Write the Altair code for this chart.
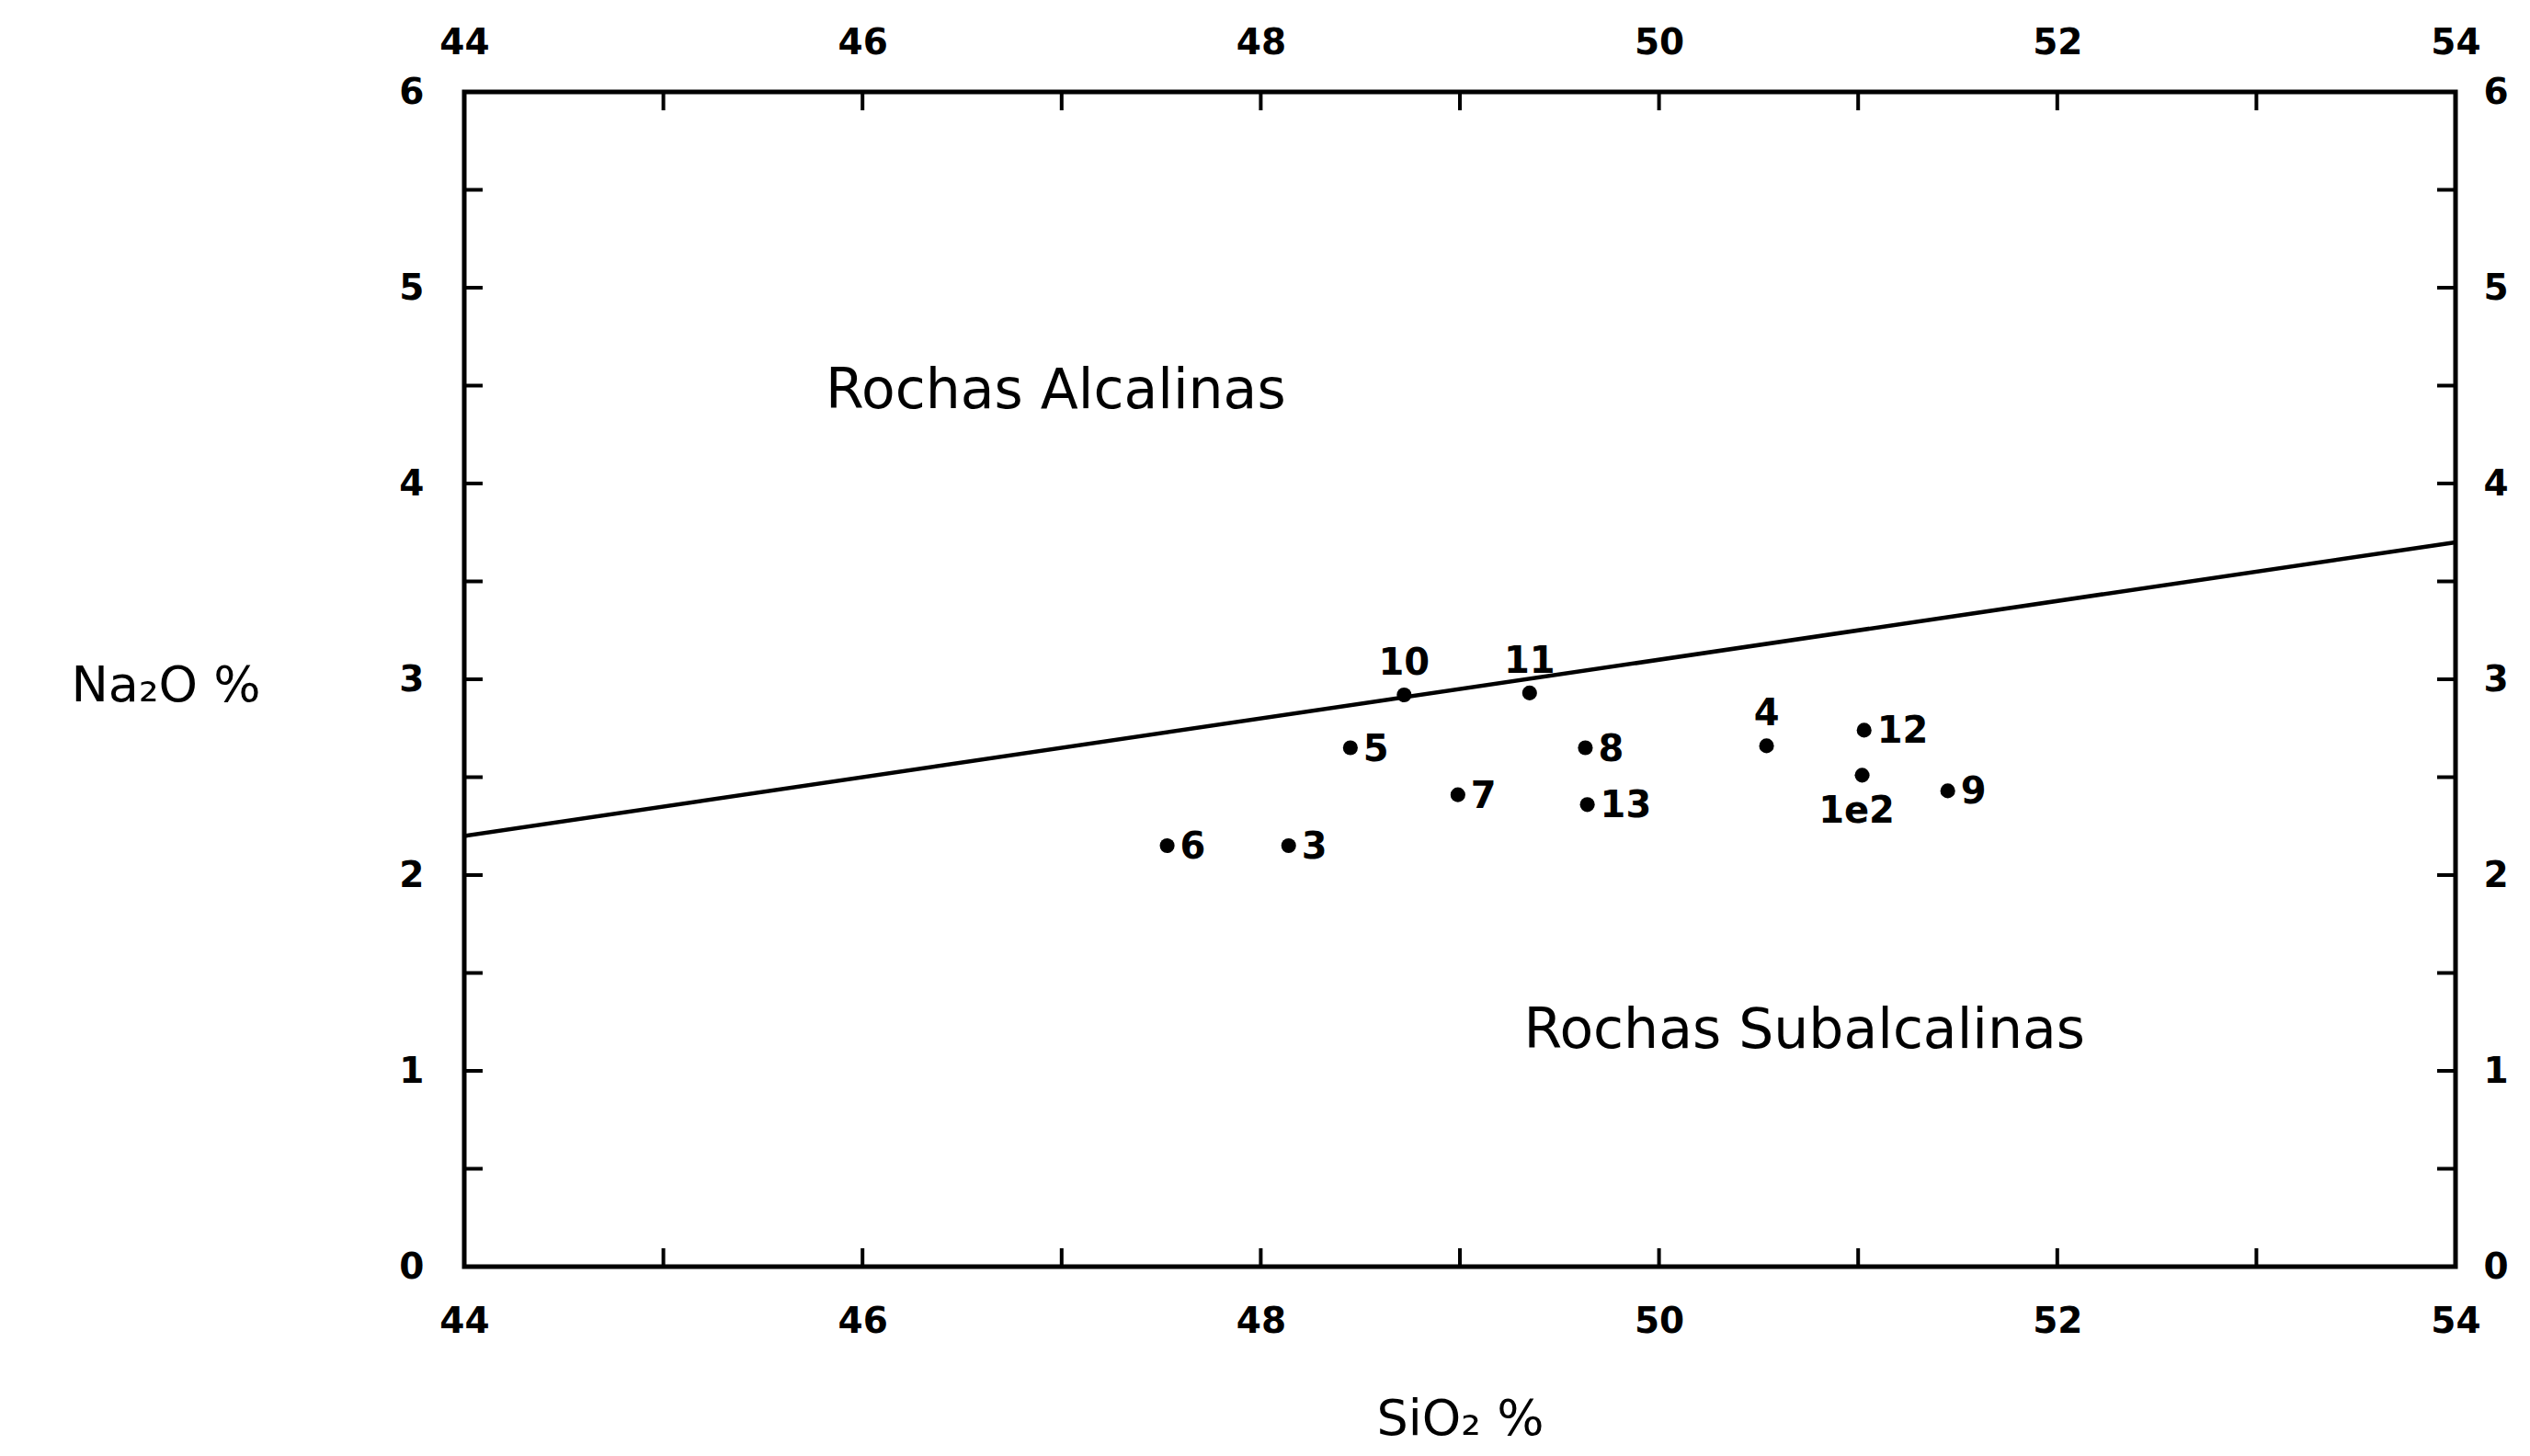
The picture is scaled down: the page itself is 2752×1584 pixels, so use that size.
import altair as alt
import pandas as pd

# ---- data ----
sample_labels = ["6", "3", "5", "10", "7", "11", "8", "13", "4", "12", "1e2", "9"]
sio2 = [47.53, 48.14, 48.45, 48.72, 48.99, 49.35, 49.63, 49.64, 50.54, 51.03, 51.02, 51.45]
na2o = [2.15, 2.15, 2.65, 2.92, 2.41, 2.93, 2.65, 2.36, 2.66, 2.74, 2.51, 2.43]
label_pos = ["right", "right", "right", "above", "right", "above", "right", "right",
             "above", "right", "below", "right"]

boundary_sio2 = [44, 54]
boundary_na2o = [2.2, 3.7]

region_names = ["Rochas  Alcalinas", "Rochas  Subalcalinas"]
region_sio2 = [46.97, 50.73]
region_na2o = [4.47, 1.2]

x_labels = [44, 46, 48, 50, 52, 54]
x_ticks = [45, 46, 47, 48, 49, 50, 51, 52, 53]
y_labels = [0, 1, 2, 3, 4, 5, 6]
y_ticks = [0.5, 1, 1.5, 2, 2.5, 3, 3.5, 4, 4.5, 5, 5.5]

W, H = 2166, 1278
FONT = "DejaVu Sans"
TICK = 20

pts = pd.DataFrame({"SiO2": sio2, "Na2O": na2o, "label": sample_labels, "pos": label_pos})
line_df = pd.DataFrame({"SiO2": boundary_sio2, "Na2O": boundary_na2o})
reg_df = pd.DataFrame({"SiO2": region_sio2, "Na2O": region_na2o, "name": region_names})
xt_df = pd.DataFrame({"v": x_ticks})
yt_df = pd.DataFrame({"v": y_ticks})

xs = alt.Scale(domain=[44, 54], nice=False, zero=False)
ys = alt.Scale(domain=[0, 6], nice=False, zero=False)

common_axis = dict(grid=False, ticks=False, domain=False, labelFont=FONT,
                   labelFontSize=39, labelFontWeight="bold", labelColor="black",
                   labelFlush=False, labelOverlap=False,
                   titleFont=FONT, titleColor="black", titleFontWeight="normal")

# points with bottom / left axes
points = alt.Chart(pts).mark_circle(size=260, color="black", opacity=1).encode(
    x=alt.X("SiO2:Q", scale=xs,
            axis=alt.Axis(orient="bottom", values=x_labels, title="SiO₂  %",
                          labelPadding=40, titleFontSize=54, titleY=166,
                          titleBaseline="middle", **common_axis)),
    y=alt.Y("Na2O:Q", scale=ys,
            axis=alt.Axis(orient="left", values=y_labels, title="Na₂O  %",
                          labelPadding=44, titleFontSize=54, titleAngle=0,
                          titleX=-325, titleY=646, titleAlign="center",
                          titleBaseline="middle", **common_axis)),
)

# boundary line with top / right axes
boundary = alt.Chart(line_df).mark_line(color="black", strokeWidth=4.5).encode(
    x=alt.X("SiO2:Q", scale=xs,
            axis=alt.Axis(orient="top", values=x_labels, title=None,
                          labelPadding=34, **common_axis)),
    y=alt.Y("Na2O:Q", scale=ys,
            axis=alt.Axis(orient="right", values=y_labels, title=None,
                          labelPadding=30, **common_axis)),
)

txt_kw = dict(font=FONT, fontSize=40, fontWeight="bold", color="black")
lab_right = alt.Chart(pts).transform_filter(alt.datum.pos == "right").mark_text(
    align="left", baseline="middle", dx=14, dy=2, **txt_kw).encode(
    x=alt.X("SiO2:Q", scale=xs, axis=None), y=alt.Y("Na2O:Q", scale=ys, axis=None),
    text="label:N")
lab_above = alt.Chart(pts).transform_filter(alt.datum.pos == "above").mark_text(
    align="center", baseline="bottom", dy=-14, **txt_kw).encode(
    x=alt.X("SiO2:Q", scale=xs, axis=None), y=alt.Y("Na2O:Q", scale=ys, axis=None),
    text="label:N")
lab_below = alt.Chart(pts).transform_filter(alt.datum.pos == "below").mark_text(
    align="center", baseline="top", dx=-6, dy=20, **txt_kw).encode(
    x=alt.X("SiO2:Q", scale=xs, axis=None), y=alt.Y("Na2O:Q", scale=ys, axis=None),
    text="label:N")

regions = alt.Chart(reg_df).mark_text(font=FONT, fontSize=60, color="black",
                                      align="center", baseline="middle").encode(
    x=alt.X("SiO2:Q", scale=xs, axis=None), y=alt.Y("Na2O:Q", scale=ys, axis=None),
    text="name:N")

# inward ticks
xb = alt.Chart(xt_df).mark_rule(color="black", strokeWidth=4).encode(
    x=alt.X("v:Q", scale=xs, axis=None), y=alt.value(H), y2=alt.value(H - TICK))
xt = alt.Chart(xt_df).mark_rule(color="black", strokeWidth=4).encode(
    x=alt.X("v:Q", scale=xs, axis=None), y=alt.value(0), y2=alt.value(TICK))
yl = alt.Chart(yt_df).mark_rule(color="black", strokeWidth=4).encode(
    y=alt.Y("v:Q", scale=ys, axis=None), x=alt.value(0), x2=alt.value(TICK))
yr = alt.Chart(yt_df).mark_rule(color="black", strokeWidth=4).encode(
    y=alt.Y("v:Q", scale=ys, axis=None), x=alt.value(W), x2=alt.value(W - TICK))

chart = alt.layer(points, boundary, lab_right, lab_above, lab_below, regions,
                  xb, xt, yl, yr).properties(
    width=W, height=H,
    autosize=alt.AutoSizeParams(type="none"),
    padding={"left": 497, "top": 92, "right": 60, "bottom": 195},
    background="white",
).configure_view(stroke="black", strokeWidth=5)

chart.save("out.html", embed_options={"renderer": "svg", "actions": False})
